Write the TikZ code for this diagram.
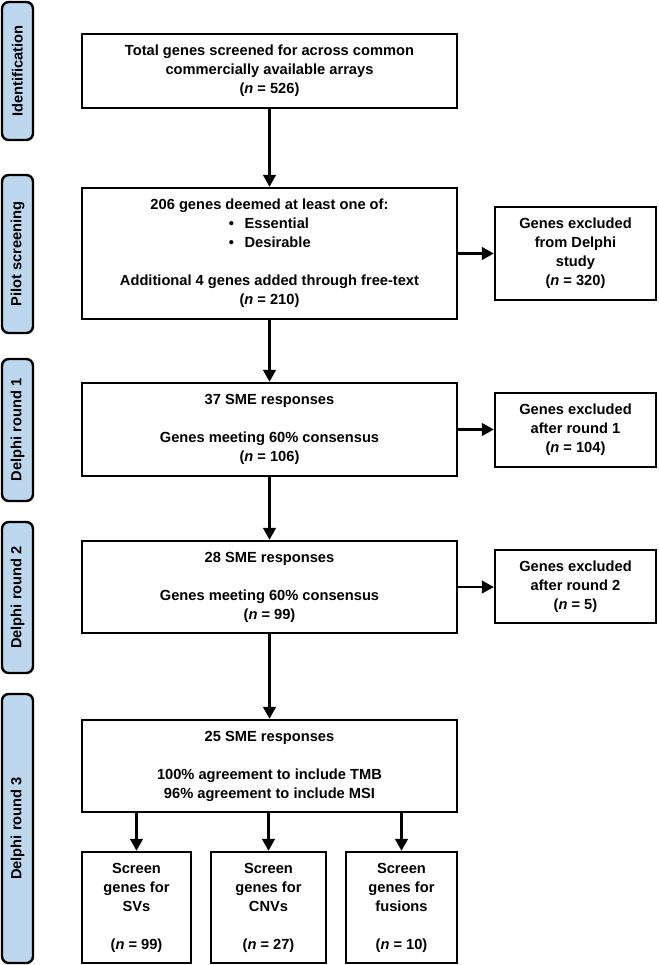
\documentclass[tikz,border=0pt]{standalone}
\usepackage{fontspec}
\setmainfont{Liberation Sans}
\usetikzlibrary{arrows.meta}
\definecolor{laneblue}{RGB}{189,215,238}
\tikzset{
    box/.style={draw, line width=1.8pt, align=center, inner sep=0pt, font=\fontsize{11}{14.25}\selectfont\bfseries},
    lane/.style={draw, line width=1.8pt, fill=laneblue, rounded corners=5pt, rotate=90, inner sep=0pt, minimum height=23.25pt, font=\fontsize{11}{14.25}\selectfont\bfseries},
    arr/.style={line width=1.8pt, -{Triangle[length=9pt,width=9.5pt]}}
}
\newcommand{\nn}[1]{(\textit{n} = #1)}
\newcommand{\bulletline}[1]{\makebox[61pt][l]{\textbullet\hspace{8pt}#1}}

\begin{document}
\begin{tikzpicture}[x=0.75pt,y=0.75pt,yscale=-1,xscale=1]
                    \useasboundingbox (0,0) rectangle (658,965);
                    %Lanes
                    \node [lane, minimum width=103.5pt] (laneid) at (17.5,71) {Identification};
                    \node [lane, minimum width=118.5pt] (lanepilot) at (17.5,254) {Pilot screening};
                    \node [lane, minimum width=106.5pt] (laneone) at (17.5,430) {Delphi round 1};
                    \node [lane, minimum width=113.25pt] (lanetwo) at (17.5,597.5) {Delphi round 2};
                    \node [lane, minimum width=201.75pt] (lanethree) at (17.5,828.5) {Delphi round 3};

                    % Text Node
                    \node [box, minimum width=281.25pt, minimum height=55.5pt] (total) at (269.5,71) {Total genes screened for across common\\commercially available arrays\\\nn{526}};
                    % Text Node
                    \node [box, minimum width=281.25pt, minimum height=98.25pt] (pilot) at (269.5,253.5) {206 genes deemed at least one of:\\\bulletline{Essential}\\\bulletline{Desirable}\\[14.25pt]Additional 4 genes added through free-text\\\nn{210}};
                    % Text Node
                    \node [box, minimum width=281.25pt, minimum height=69.75pt] (roundone) at (269.5,429.5) {37 SME responses\\[14.25pt]Genes meeting 60\% consensus\\\nn{106}};
                    % Text Node
                    \node [box, minimum width=281.25pt, minimum height=69pt] (roundtwo) at (269.5,587) {28 SME responses\\[14.25pt]Genes meeting 60\% consensus\\\nn{99}};
                    % Text Node
                    \node [box, minimum width=281.25pt, minimum height=69pt] (roundthree) at (269.5,766) {25 SME responses\\[14.25pt]100\% agreement\  to include TMB\\96\% agreement to include MSI};

                    % Text Node
                    \node [box, minimum width=120.75pt, minimum height=69.75pt] (exclpilot) at (575.5,253.5) {Genes excluded\\from Delphi\\study\\\nn{320}};
                    % Text Node
                    \node [box, minimum width=120.75pt, minimum height=55.5pt] (exclone) at (575.5,430) {Genes excluded\\after round 1\\\nn{104}};
                    % Text Node
                    \node [box, minimum width=120.75pt, minimum height=54.75pt] (excltwo) at (575.5,586.5) {Genes excluded\\after round 2\\\nn{5}};

                    % Text Node
                    \node [box, minimum width=81.75pt, minimum height=83.25pt] (svs) at (136.5,907.5) {Screen\\genes for\\SVs\\[14.25pt]\nn{99}};
                    % Text Node
                    \node [box, minimum width=86.25pt, minimum height=83.25pt] (cnvs) at (268.5,907.5) {Screen\\genes for\\CNVs\\[14.25pt]\nn{27}};
                    % Text Node
                    \node [box, minimum width=83.25pt, minimum height=83.25pt] (fusions) at (401.5,907.5) {Screen\\genes for\\fusions\\[14.25pt]\nn{10}};

                    %Straight Lines
                    \draw [arr] (total) -- (pilot);
                    \draw [arr] (pilot) -- (roundone);
                    \draw [arr] (roundone) -- (roundtwo);
                    \draw [arr] (roundtwo) -- (roundthree);
                    \draw [arr] (pilot.east) -- (pilot.east -| exclpilot.west);
                    \draw [arr] (roundone.east) -- (roundone.east -| exclone.west);
                    \draw [arr] (roundtwo.east) -- (roundtwo.east -| excltwo.west);
                    %Straight Lines
                    \draw [arr] (svs.north |- roundthree.south) -- (svs.north);
                    \draw [arr] (cnvs.north |- roundthree.south) -- (cnvs.north);
                    \draw [arr] (fusions.north |- roundthree.south) -- (fusions.north);
                \end{tikzpicture}
\end{document}
